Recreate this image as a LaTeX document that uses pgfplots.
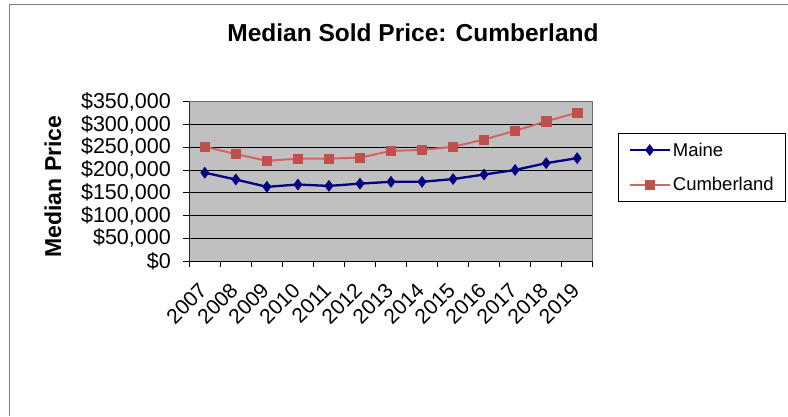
\documentclass[border=0pt]{standalone}
\usepackage{fontspec}
\setmainfont{Liberation Sans}
\usepackage{pgfplots}
\pgfplotsset{compat=1.18}
\definecolor{maine}{RGB}{0,0,128}
\definecolor{cumbline}{RGB}{210,100,100}
\definecolor{cumbmark}{RGB}{192,80,77}
\definecolor{plotbg}{RGB}{192,192,192}
\begin{document}
\begin{tikzpicture}[x=1pt,y=1pt]
\path[use as bounding box] (0,0) rectangle (788,-416);
\draw[draw=gray, line width=1.3pt] (9.5,-416) -- (9.5,-4.5) -- (788,-4.5);
\begin{axis}[
  at={(189.3pt,-261pt)}, anchor=south west,
  scale only axis, width=403.4pt, height=159.3pt,
  xmin=-0.5, xmax=12.5, ymin=0, ymax=350000,
  axis background/.style={fill=plotbg},
  axis line style={draw=gray!85!black, line width=1pt},
  xtick={0,...,12},
  xticklabels={2007,2008,2009,2010,2011,2012,2013,2014,2015,2016,2017,2018,2019},
  major x tick style={draw=none},
  minor xtick={-0.5,0.5,...,12.5},
  minor tick length=6pt,
  ytick={0,50000,100000,150000,200000,250000,300000,350000},
  yticklabels={{\$0},{\$50,000},{\$100,000},{\$150,000},{\$200,000},{\$250,000},{\$300,000},{\$350,000}},
  ymajorgrids, major grid style={black, line width=0.9pt},
  tick align=outside, major tick length=6pt,
  tick style={black, line width=0.9pt},
  tick pos=left,
  scaled y ticks=false,
  /pgf/number format/assume math mode=true,
  ticklabel style={font=\fontsize{21.5}{24}\selectfont},
  yticklabel style={xshift=-9pt},
  xticklabel style={font=\fontsize{21}{24}\selectfont, xshift=3.5pt, yshift=-25pt, rotate=45, anchor=base east, inner sep=0pt},
  title={Median Sold Price: Cumberland},
  title style={font=\bfseries\fontsize{24.5}{26}\selectfont, at={(axis description cs:0.5545,1.394)}, anchor=center},
  ylabel={Median Price},
  ylabel style={font=\bfseries\fontsize{23}{26}\selectfont, at={(axis description cs:-0.338,0.468)}, anchor=center},
  legend style={at={(axis description cs:1.0627,0.8035)}, anchor=north west, draw=black, line width=1.2pt,
    font=\fontsize{18.5}{20}\selectfont, inner xsep=10pt, inner ysep=7pt, row sep=16pt,
    cells={anchor=west}},
  legend image code/.code={\draw[mark repeat=2,mark phase=2,#1] plot coordinates {(0pt,0pt) (20pt,0pt) (40pt,0pt)};},
]
\addplot[maine, line width=2.3pt, mark=diamond*, mark size=5.5pt, mark options={solid, line width=0.5pt}]
 coordinates {(0,194000) (1,179000) (2,163000) (3,168000) (4,165000) (5,170000) (6,174000) (7,174000) (8,180000) (9,190000) (10,200000) (11,215000) (12,226000)};
\addlegendentry{Maine}
\addplot[cumbline, line width=2pt, mark=square*, mark size=4.6pt, mark options={solid, fill=cumbmark, draw=cumbmark, line width=0.5pt}]
 coordinates {(0,251000) (1,235000) (2,220000) (3,225000) (4,225000) (5,227000) (6,242000) (7,244000) (8,251000) (9,267000) (10,286000) (11,307000) (12,326000)};
\addlegendentry{Cumberland}
\draw[black, line width=1pt] (rel axis cs:0,1) -- (rel axis cs:0,0) -- (rel axis cs:1,0);
\end{axis}
\end{tikzpicture}
\end{document}
